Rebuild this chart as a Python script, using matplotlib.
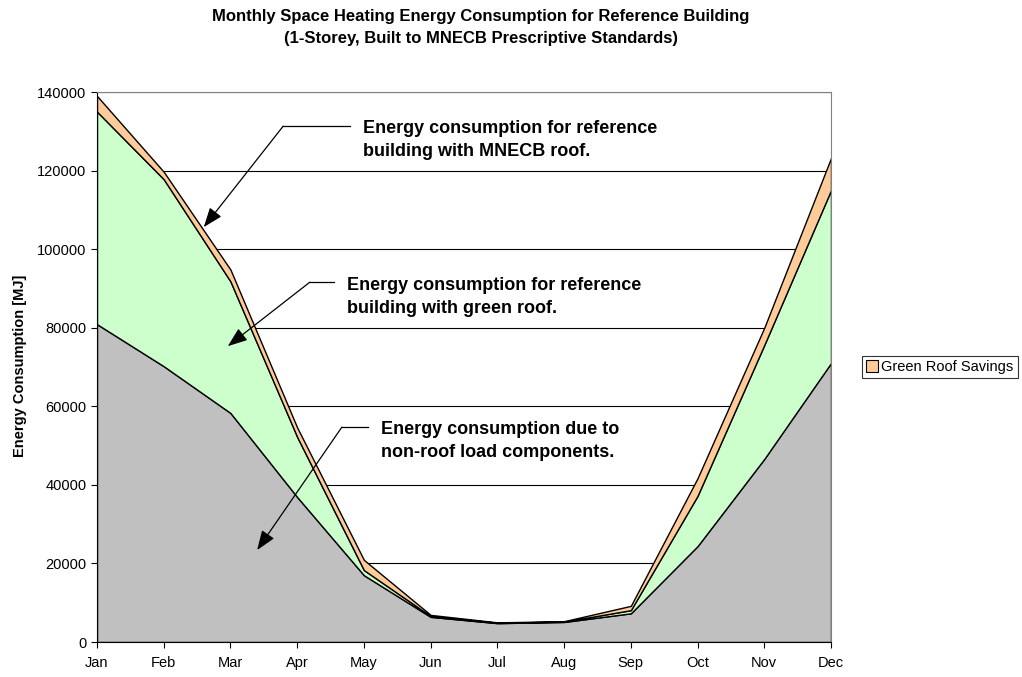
import matplotlib
matplotlib.use("Agg")
import matplotlib.pyplot as plt
import numpy as np
from matplotlib.patches import Patch

plt.rcParams['font.family'] = ['Liberation Sans', 'DejaVu Sans']

months = ["Jan", "Feb", "Mar", "Apr", "May", "Jun", "Jul", "Aug", "Sep", "Oct", "Nov", "Dec"]
# Energy use from non-roof load components [MJ]
non_roof = [80900, 70200, 58300, 36900, 17000, 6400, 4800, 5100, 7300, 24400, 46600, 71000]
# Total energy use, building with green roof [MJ]
green_roof_total = [135000, 117800, 91800, 52200, 18300, 6600, 4900, 5200, 8100, 37200, 75600, 115000]
# Total energy use, building with MNECB roof [MJ]
mnecb_total = [139000, 119700, 94800, 54600, 20900, 6900, 5000, 5300, 9200, 41700, 80000, 123200]

green_part = np.array(green_roof_total) - np.array(non_roof)
savings = np.array(mnecb_total) - np.array(green_roof_total)

fig = plt.figure(figsize=(10.22, 6.77), dpi=100)
ax = fig.add_axes([97/1022, 35/677, (831-97)/1022, (642-92)/677])

x = np.arange(len(months))
ax.set_xlim(0, 11)
ax.set_ylim(0, 140000)

# gridlines behind the areas
for yv in range(20000, 140001, 20000):
    ax.axhline(yv, color='black', lw=0.8, zorder=0)

ax.stackplot(x, non_roof, green_part, savings,
             colors=['#C0C0C0', '#CCFFCC', '#FFCC99'],
             edgecolor='black', linewidth=1.0, zorder=2)

ax.set_yticks(range(0, 140001, 20000))
ax.set_yticklabels([str(v) for v in range(0, 140001, 20000)], fontsize=10.5)
ax.set_xticks(x)
ax.set_xticklabels(months, fontsize=10.5)
ax.tick_params(direction='out', length=4, width=0.8, color='black')
ax.tick_params(axis='x', pad=6)

for side in ['top', 'right']:
    ax.spines[side].set_color('#808080')
    ax.spines[side].set_linewidth(0.8)
for side in ['left', 'bottom']:
    ax.spines[side].set_color('black')
    ax.spines[side].set_linewidth(0.8)
for sp in ax.spines.values():
    sp.set_zorder(3)

fig.text(20/1022, 1 - 366/677, "Energy Consumption [MJ]", rotation=90,
         ha='center', va='center', fontsize=10.5, fontweight='bold')

fig.text(481/1022, 1 - 17/677, "Monthly Space Heating Energy Consumption for Reference Building",
         ha='center', va='center', fontsize=12, fontweight='bold')
fig.text(481/1022, 1 - 38/677, "(1-Storey, Built to MNECB Prescriptive Standards)",
         ha='center', va='center', fontsize=12, fontweight='bold')

def callout(lines, tip, elbow, text_x, baselines):
    ax.annotate("", xy=tip, xytext=elbow,
                arrowprops=dict(arrowstyle='-|>,head_length=1.2,head_width=0.45',
                                color='black', lw=0.9, shrinkA=0, shrinkB=0),
                zorder=5)
    ax.plot([elbow[0], text_x - 0.2], [elbow[1], elbow[1]], color='black', lw=0.9, zorder=5)
    for line, yb in zip(lines, baselines):
        ax.text(text_x, yb, line, fontsize=13, fontweight='bold', ha='left',
                va='baseline', zorder=6)

callout(["Energy consumption for reference", "building with MNECB roof."],
        (1.60, 105600), (2.79, 131300), 3.99, (129560, 123710))
callout(["Energy consumption for reference", "building with green roof."],
        (1.96, 75300), (3.19, 91600), 3.75, (89600, 83750))
callout(["Energy consumption due to", "non-roof load components."],
        (2.40, 23400), (3.67, 54700), 4.26, (52950, 47090))

handle = Patch(facecolor='#FFCC99', edgecolor='black', linewidth=0.8)
leg = fig.legend([handle], ["Green Roof Savings"], loc='center left',
                 bbox_to_anchor=(862/1022, 1 - 367/677), fontsize=10.5,
                 frameon=True, fancybox=False, edgecolor='black',
                 handlelength=0.8, handleheight=0.8, handletextpad=0.2,
                 borderpad=0.3, borderaxespad=0)
leg.get_frame().set_linewidth(0.8)

fig.savefig("out.png", dpi=100)
